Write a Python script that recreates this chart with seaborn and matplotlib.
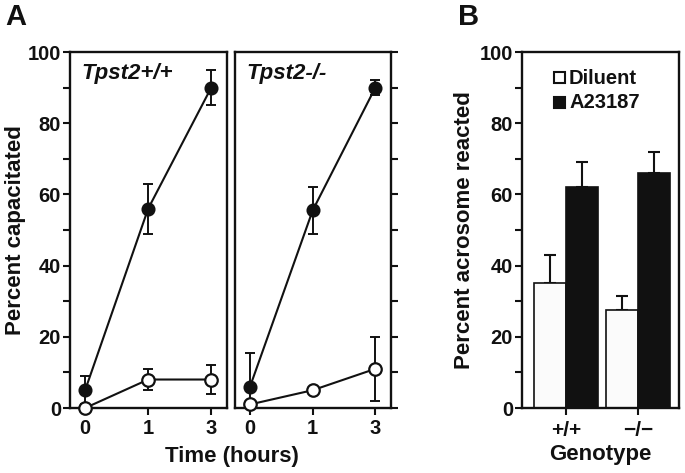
import numpy as np
import pandas as pd
import matplotlib
matplotlib.use("Agg")
import matplotlib.pyplot as plt
from matplotlib.ticker import MultipleLocator
from matplotlib.patches import Rectangle
from matplotlib.container import BarContainer
import seaborn as sns

# ---------------- data ----------------
time_labels = ["0", "1", "3"]
wt_a23187 = [5, 56, 90]
wt_a23187_err = [4, 7, 5]
wt_diluent = [0, 8, 8]
wt_diluent_err = [0, 3, 4]
ko_a23187 = [6, 55.5, 90]
ko_a23187_err = [9.5, 6.5, 2]
ko_diluent = [1, 5, 11]
ko_diluent_err = [0, 0, 9]

genotypes = ["+/+", "\u2212/\u2212"]
treatments = ["Diluent", "A23187"]
acro_diluent = [35, 27.5]
acro_diluent_err = [8, 4]
acro_a23187 = [62, 66]
acro_a23187_err = [7, 5.8]

# ---------------- style ----------------
sns.set_theme(style="white")
plt.rcParams["font.family"] = ["Liberation Sans", "DejaVu Sans"]
plt.rcParams["font.weight"] = "bold"
plt.rcParams["axes.labelweight"] = "bold"
INK = "#111111"
TICK_FS = 14.5
LABEL_FS = 16

W, H = 685, 473
fig = plt.figure(figsize=(W / 100, H / 100), dpi=100)


def px_axes(x0, x1, y0, y1):
    return fig.add_axes([x0 / W, 1 - y1 / H, (x1 - x0) / W, (y1 - y0) / H])


axA1 = px_axes(70, 227, 52, 408)
axA2 = px_axes(235, 391, 52, 408)
axB = px_axes(522, 679, 52, 408)


def style_box(ax):
    for s in ax.spines.values():
        s.set_visible(True)
        s.set_color(INK)
        s.set_linewidth(1.7)
    ax.set_facecolor("white")


def draw_time_panel(ax, filled, filled_err, opened, opened_err, title):
    xs = np.arange(len(time_labels))
    df_f = pd.DataFrame({"time": time_labels, "val": filled})
    df_o = pd.DataFrame({"time": time_labels, "val": opened})
    ax.errorbar(xs, filled, yerr=filled_err, fmt="none", ecolor=INK,
                elinewidth=1.4, capsize=3.5, capthick=1.4, zorder=2)
    ax.errorbar(xs, opened, yerr=opened_err, fmt="none", ecolor=INK,
                elinewidth=1.4, capsize=3.5, capthick=1.4, zorder=2)
    sns.pointplot(data=df_f, x="time", y="val", order=time_labels, ax=ax,
                  color=INK, markers="o", linestyles="-", errorbar=None,
                  markersize=9, linewidth=1.5, zorder=3)
    sns.pointplot(data=df_o, x="time", y="val", order=time_labels, ax=ax,
                  color=INK, markers="o", linestyles="-", errorbar=None,
                  markersize=9, linewidth=1.5, markerfacecolor="white",
                  markeredgecolor=INK, markeredgewidth=1.6, zorder=4)
    for ln in ax.lines[-2:]:
        ln.set_clip_on(False)
    ax.set_xlim(-0.24, 2.25)
    ax.set_ylim(0, 100)
    ax.set_xlabel("")
    ax.set_ylabel("")
    style_box(ax)
    ax.text(0.075, 0.97, title, transform=ax.transAxes, ha="left", va="top",
            fontsize=16, fontweight="bold", fontstyle="italic", color=INK)
    ax.set_xticks(xs)
    ax.set_xticklabels(time_labels)
    ax.tick_params(axis="x", which="both", bottom=True, direction="out",
                   length=5, width=1.5, colors=INK, labelsize=TICK_FS, pad=3)


draw_time_panel(axA1, wt_a23187, wt_a23187_err, wt_diluent, wt_diluent_err,
                "Tpst2+/+")
draw_time_panel(axA2, ko_a23187, ko_a23187_err, ko_diluent, ko_diluent_err,
                "Tpst2-/-")

# y axis for left panel
axA1.yaxis.set_major_locator(MultipleLocator(20))
axA1.yaxis.set_minor_locator(MultipleLocator(10))
axA1.tick_params(axis="y", which="both", left=True, right=False,
                 direction="out", length=5, width=1.5, colors=INK,
                 labelsize=TICK_FS, pad=1.5)
axA1.set_ylabel("Percent capacitated", fontsize=LABEL_FS, fontweight="bold",
                color=INK, labelpad=1)

# y axis for right panel (ticks on right, no labels)
axA2.yaxis.set_major_locator(MultipleLocator(10))
axA2.tick_params(axis="y", which="both", left=False, right=True,
                 labelleft=False, labelright=False, direction="out",
                 length=5, width=1.5, colors=INK)

fig.text(232 / W, 1 - 456 / H, "Time (hours)", ha="center", va="center",
         fontsize=LABEL_FS, fontweight="bold", color=INK)

# ---------------- panel B ----------------
df_b = pd.DataFrame({
    "genotype": genotypes * 2,
    "treatment": [treatments[0]] * 2 + [treatments[1]] * 2,
    "value": acro_diluent + acro_a23187,
})
sns.barplot(data=df_b, x="genotype", y="value", hue="treatment",
            order=genotypes, hue_order=treatments, ax=axB,
            palette=["#fbfbfb", INK], edgecolor=INK, linewidth=1.2,
            errorbar=None, width=0.9, saturation=1, legend=False, zorder=2)
errs = {treatments[0]: acro_diluent_err, treatments[1]: acro_a23187_err}
vals = {treatments[0]: acro_diluent, treatments[1]: acro_a23187}
bar_conts = [c for c in axB.containers if isinstance(c, BarContainer)]
for ci, cont in enumerate(bar_conts):
    tname = treatments[ci]
    for bi, bar in enumerate(cont):
        cx = bar.get_x() + bar.get_width() / 2
        axB.errorbar([cx], [vals[tname][bi]],
                     yerr=[[0], [errs[tname][bi]]], fmt="none", ecolor=INK,
                     elinewidth=1.5, capsize=4, capthick=1.5, zorder=1)
axB.set_xlim(-0.61, 1.57)
axB.set_ylim(0, 100)
style_box(axB)
axB.yaxis.set_major_locator(MultipleLocator(20))
axB.yaxis.set_minor_locator(MultipleLocator(10))
axB.tick_params(axis="y", which="both", left=True, direction="out",
                length=5, width=1.5, colors=INK, labelsize=TICK_FS, pad=1.5)
axB.tick_params(axis="x", which="both", bottom=True, direction="out",
                length=5, width=1.5, colors=INK, labelsize=TICK_FS + 0.5,
                pad=4)
axB.set_ylabel("Percent acrosome reacted", fontsize=LABEL_FS,
               fontweight="bold", color=INK, labelpad=3)
axB.set_xlabel("Genotype", fontsize=LABEL_FS, fontweight="bold", color=INK,
               labelpad=3)

# legend drawn as in-axes squares
leg_colors = ["white", INK]
for i, (name, col) in enumerate(zip(treatments, leg_colors)):
    y_top = 72 + i * 25
    axB.add_patch(Rectangle((554 / W, 1 - (y_top + 11) / H), 11 / W, 11 / H,
                            transform=fig.transFigure, facecolor=col,
                            edgecolor=INK, linewidth=1.5, clip_on=False,
                            zorder=5))
    fig.text(569 / W, 1 - (y_top + 6) / H, name, ha="left", va="center",
             fontsize=14.5, fontweight="bold", color=INK)

# panel letters
fig.text(5 / W, 1 - 17 / H, "A", ha="left", va="center", fontsize=21,
         fontweight="bold", color=INK)
fig.text(458 / W, 1 - 17 / H, "B", ha="left", va="center", fontsize=21,
         fontweight="bold", color=INK)

fig.savefig("out.png", dpi=100, facecolor="white")
